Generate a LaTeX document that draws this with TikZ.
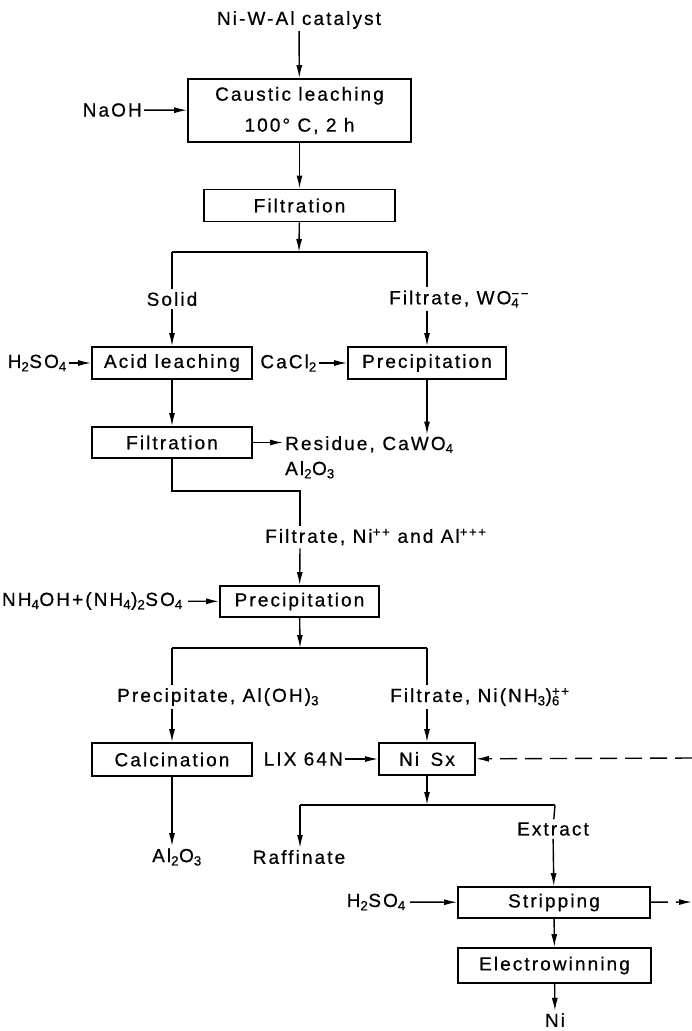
\documentclass[tikz,border=0pt]{standalone}
\usepackage{fontspec}
\setmainfont{Liberation Sans}[LetterSpace=11, FakeBold=0.6]
\usetikzlibrary{arrows.meta,calc}

\tikzset{
  proc/.style={rectangle, draw=black, line width=1.8pt, minimum height=32pt, inner sep=0pt, text centered},
  txt/.style={inner sep=2pt},
  lbl/.style={inner sep=3pt, fill=white},
  flow/.style={-{Latex[length=13pt,width=6pt]}, line width=1.4pt},
  pipe/.style={line width=1.4pt},
  recycle/.style={flow, dash pattern=on 17pt off 8pt}
}
\newcommand{\ionsub}[2]{\rlap{\textsubscript{#1}}\textsuperscript{#2}}

\begin{document}
\begin{tikzpicture}[x=1pt, y=-1pt, font=\fontsize{19}{23}\selectfont]
		\useasboundingbox (0,0) rectangle (692,1031);

		% caustic leaching and first filtration
		\node (catalyst) [txt] at (299,20) {Ni-W-Al catalyst};
		\node (caustic) [proc, minimum width=223pt, minimum height=63pt, align=center, font=\fontsize{19}{31}\selectfont] at (299.5,110.5) {Caustic leaching\\100° C, 2 h};
		\node (naoh) [txt, anchor=east] at (144,110) {NaOH};
		\node (filt1) [proc, minimum width=191pt] at (299.5,205.5) {Filtration};
		\coordinate (sp1) at (299,252);
		\coordinate (sp1l) at (172,252);
		\coordinate (sp1r) at (427,252);

		% solid and filtrate branches
		\node (solid) [lbl] at (172,299) {Solid};
		\node (filtw) [lbl, anchor=west] at (386,299) {Filtrate, WO\ionsub{4}{−−}};
		\node (acid) [proc, minimum width=160pt] at (172,363) {Acid leaching};
		\node (h2so4a) [txt, anchor=east] at (69,363) {H\textsubscript{2}SO\textsubscript{4}};
		\node (cacl2) [txt, anchor=east] at (319,363) {CaCl\textsubscript{2}};
		\node (prec1) [proc, minimum width=158pt] at (427,363) {Precipitation};
		\node (filt2) [proc, minimum width=160pt, minimum height=31pt] at (172,442.5) {Filtration};
		\node (residue) [txt, anchor=base west] at (283,450) {Residue,};
		\node (al2o3a) [txt, anchor=base west] at (283,475) {Al\textsubscript{2}O\textsubscript{3}};
		\node (cawo4) [txt, anchor=base] at (418,450) {CaWO\textsubscript{4}};
		\coordinate (bend) at (300,491);

		% ammonia precipitation
		\node (filtni) [lbl, anchor=west] at (262,537) {Filtrate, Ni\textsuperscript{++} and Al\textsuperscript{+++}};
		\node (prec2) [proc, minimum width=159pt, minimum height=31pt] at (299.5,601.5) {Precipitation};
		\node (nh4) [txt, anchor=east, inner sep=5pt] at (188,601) {NH\textsubscript{4}OH+(NH\textsubscript{4})\textsubscript{2}SO\textsubscript{4}};
		\coordinate (sp2) at (300,648);
		\coordinate (sp2l) at (172,648);
		\coordinate (sp2r) at (427,648);
		\node (precal) [lbl, anchor=west] at (114,697) {Precipitate, Al(OH)\textsubscript{3}};
		\node (filtnh) [lbl, anchor=west] at (387,697) {Filtrate, Ni(NH\textsubscript{3})\ionsub{6}{++}};
		\node (calc) [proc, minimum width=160pt, minimum height=33pt] at (172,759.5) {Calcination};
		\node (nisx) [proc, minimum width=96pt] at (427,759) {Ni\hspace{0.6em}Sx};
		\node (lix) [txt, anchor=east] at (345,759) {LIX 64N};
		\node (al2o3b) [txt] at (177,857) {Al\textsubscript{2}O\textsubscript{3}};

		% solvent extraction and stripping
		\coordinate (sp3) at (427,805);
		\coordinate (sp3l) at (300,805);
		\coordinate (sp3r) at (555,805);
		\node (raff) [txt] at (299,857) {Raffinate};
		\node (extract) [lbl] at (553,829) {Extract};
		\node (strip) [proc, minimum width=192pt, minimum height=31pt] at (554,902.5) {Stripping};
		\node (h2so4b) [txt, anchor=east, inner sep=4pt] at (410,902) {H\textsubscript{2}SO\textsubscript{4}};
		\node (elec) [proc, minimum width=193pt, minimum height=35pt] at (554.5,965.5) {Electrowinning};
		\node (ni) [txt] at (555,1020) {Ni};
		\coordinate (recout) at (692,902);
		\coordinate (recin) at (692,758);

		\draw[flow] (catalyst) -- (caustic);
		\draw[flow] (naoh) -- (caustic);
		\draw[flow] (caustic) -- (filt1);
		\draw[flow] (filt1) -- (sp1);
		\draw[pipe] (sp1l) -- (sp1r);
		\draw[pipe] (sp1l) -- (solid);
		\draw[flow] (solid) -- (acid);
		\draw[pipe] (sp1r) -- (sp1r |- filtw.north);
		\draw[flow] (sp1r |- filtw.south) -- (prec1);
		\draw[flow] (h2so4a) -- (acid);
		\draw[flow] (cacl2) -- (prec1);
		\draw[flow] (acid) -- (filt2);
		\draw[flow] (prec1.south) -- (prec1.south |- cawo4.north);
		\draw[flow] (filt2.east) -- (filt2.east -| residue.west);
		\draw[pipe] (filt2.south) |- (bend) -- (bend |- filtni.north);
		\draw[flow] (bend |- filtni.south) -- (prec2);
		\draw[flow] (nh4) -- (prec2);
		\draw[flow] (prec2) -- (sp2);
		\draw[pipe] (sp2l) -- (sp2r);
		\draw[pipe] (sp2l) -- (sp2l |- precal.north);
		\draw[flow] (sp2l |- precal.south) -- (calc);
		\draw[pipe] (sp2r) -- (sp2r |- filtnh.north);
		\draw[flow] (sp2r |- filtnh.south) -- (nisx);
		\draw[flow] (lix) -- (nisx);
		\draw[flow] (calc.south) -- (calc.south |- al2o3b.north);
		\draw[flow] (nisx) -- (sp3);
		\draw[pipe] (sp3l) -- (sp3r);
		\draw[flow] (sp3l) -- (sp3l |- raff.north);
		\draw[pipe] (sp3r) -- (extract);
		\draw[flow] (extract) -- (strip);
		\draw[flow] (h2so4b) -- (strip);
		\draw[flow] (strip) -- (elec);
		\draw[flow] (elec) -- (ni);
		\draw[recycle] (strip) -- (recout);
		\draw[recycle] (recin) -- (nisx);
	\end{tikzpicture}
\end{document}
